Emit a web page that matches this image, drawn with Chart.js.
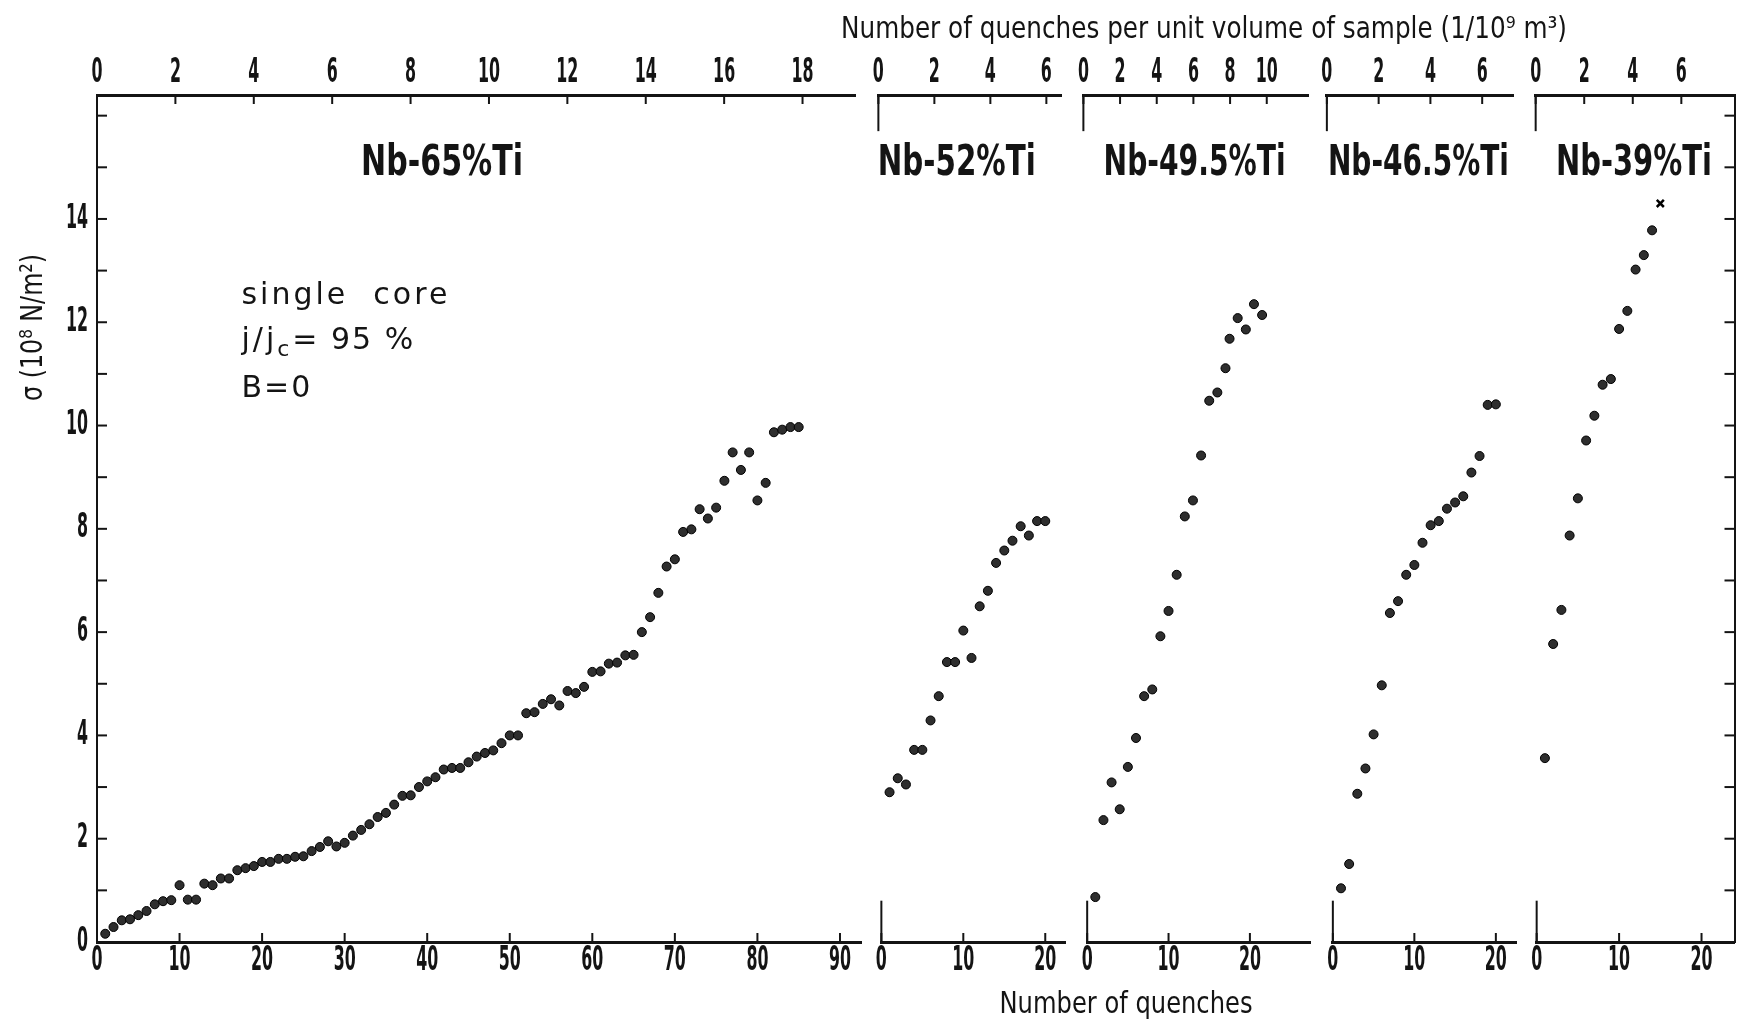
<!DOCTYPE html>
<html>
<head>
<meta charset="utf-8">
<title>Stress vs number of quenches</title>
<script src="https://cdn.jsdelivr.net/npm/chart.js@4.4.1/dist/chart.umd.min.js"></script>
<style>
  html, body { margin: 0; padding: 0; background: #fff; }
  #wrap { width: 1742px; height: 1023px; }
</style>
</head>
<body>
<div id="wrap"><canvas id="quenchChart" width="1742" height="1023"></canvas></div>
<script>
// ---- data (stress in 10^8 N/m^2) ----
const quench65 = [1, 2, 3, 4, 5, 6, 7, 8, 9, 10, 11, 12, 13, 14, 15, 16, 17, 18, 19, 20,
  21, 22, 23, 24, 25, 26, 27, 28, 29, 30, 31, 32, 33, 34, 35, 36, 37, 38, 39, 40,
  41, 42, 43, 44, 45, 46, 47, 48, 49, 50, 51, 52, 53, 54, 55, 56, 57, 58, 59, 60,
  61, 62, 63, 64, 65, 66, 67, 68, 69, 70, 71, 72, 73, 74, 75, 76, 77, 78, 79, 80,
  81, 82, 83, 84, 85];
const stress65 = [0.16, 0.29, 0.42, 0.44, 0.52, 0.60, 0.73, 0.79, 0.81, 1.10,
  0.82, 0.82, 1.13, 1.10, 1.23, 1.23, 1.39, 1.43, 1.47, 1.55,
  1.55, 1.61, 1.61, 1.65, 1.66, 1.76, 1.84, 1.95, 1.85, 1.92,
  2.06, 2.17, 2.28, 2.42, 2.50, 2.66, 2.83, 2.84, 3.00, 3.11,
  3.19, 3.34, 3.37, 3.37, 3.48, 3.59, 3.66, 3.71, 3.85, 4.00,
  4.00, 4.43, 4.45, 4.61, 4.70, 4.58, 4.86, 4.82, 4.94, 5.23,
  5.24, 5.39, 5.41, 5.55, 5.56, 6.00, 6.29, 6.76, 7.27, 7.41,
  7.94, 7.99, 8.38, 8.20, 8.41, 8.93, 9.48, 9.14, 9.48, 8.55,
  8.89, 9.87, 9.92, 9.97, 9.97];

const quench52 = [1, 2, 3, 4, 5, 6, 7, 8, 9, 10, 11, 12, 13, 14, 15, 16, 17, 18, 19, 20];
const stress52 = [2.90, 3.17, 3.05, 3.72, 3.72, 4.29, 4.76, 5.42, 5.42, 6.03,
  5.50, 6.50, 6.80, 7.34, 7.58, 7.77, 8.05, 7.87, 8.15, 8.15];

const quench495 = [1, 2, 3, 4, 5, 6, 7, 8, 9, 10, 11, 12, 13, 14, 15, 16, 17,
  17.5, 18.5, 19.5, 20.5, 21.5];
const stress495 = [0.87, 2.36, 3.09, 2.57, 3.39, 3.95, 4.76, 4.89, 5.92, 6.41,
  7.11, 8.24, 8.55, 9.42, 10.48, 10.64, 11.11, 11.68, 12.08, 11.86, 12.35, 12.14];

const quench465 = [1, 2, 3, 4, 5, 6, 7, 8, 9, 10, 11, 12, 13, 14, 15, 16, 17, 18, 19, 20];
const stress465 = [1.04, 1.51, 2.87, 3.36, 4.02, 4.97, 6.37, 6.60, 7.11, 7.30,
  7.73, 8.07, 8.15, 8.39, 8.51, 8.63, 9.09, 9.41, 10.40, 10.41];

const quench39 = [1, 2, 3, 4, 5, 6, 7, 8, 9, 10, 11, 12, 13, 14, 15];
const stress39 = [3.56, 5.77, 6.43, 7.87, 8.59, 9.71, 10.19, 10.79, 10.90, 11.87,
  12.22, 13.02, 13.30, 13.78, 14.30];
const crossAt39 = 14; // last Nb-39%Ti point is drawn as a cross

const alloys = ['Nb-65%Ti', 'Nb-52%Ti', 'Nb-49.5%Ti', 'Nb-46.5%Ti', 'Nb-39%Ti'];
const bottomTicks = [10, 10, 10, 10, 10];
const topLastLabel = [18, 6, 10, 6, 6];

// ---- look ----
const INK = '#141414';
const PLAIN = "'DejaVu Sans', sans-serif";
const SQUEEZE = 0.48; // the original lettering is a narrow stencil face

function toPoints(xs, ys) {
  return xs.map((x, i) => ({ x: x, y: ys[i] }));
}

function bottomAxis(weight, max, step) {
  return {
    type: 'linear', position: 'bottom', stack: 'panels', stackWeight: weight,
    min: 0, max: max,
    grid: { display: false },
    border: { display: true, color: INK, width: 3 },
    ticks: { display: false, stepSize: step, includeBounds: false },
    afterFit: s => { s.height = 81; }
  };
}

function topAxis(weight, max, lastLabel) {
  return {
    type: 'linear', position: 'top', stack: 'panels', stackWeight: weight,
    min: 0, max: max,
    grid: { display: false },
    border: { display: true, color: INK, width: 3 },
    ticks: {
      display: false, stepSize: 2, includeBounds: false,
      callback: v => (v <= lastLabel ? v : '')
    },
    afterFit: s => { s.height = 95; }
  };
}

function gapAxis(position, weight) {
  return { type: 'linear', position: position, stack: 'panels', stackWeight: weight, display: false, min: 0, max: 1 };
}

function squeezed(ctx, text, x, y) {
  ctx.fillText(text, x, y, ctx.measureText(text).width * SQUEEZE);
}

const bottomIds = ['x65', 'x52', 'x495', 'x465', 'x39'];
const topIds = ['t65', 't52', 't495', 't465', 't39'];

// inward tick marks, tick labels and the short brackets of the narrow panels
const frame = {
  id: 'frame',
  afterDraw(chart) {
    const { ctx, scales, chartArea } = chart;
    const y = scales.y;
    ctx.save();
    ctx.strokeStyle = INK;
    ctx.fillStyle = INK;
    ctx.lineWidth = 2;
    ctx.font = `bold 33px ${PLAIN}`;
    ctx.textBaseline = 'middle';
    const line = (x1, y1, x2, y2) => {
      ctx.beginPath(); ctx.moveTo(x1, y1); ctx.lineTo(x2, y2); ctx.stroke();
    };

    ctx.textAlign = 'right';
    y.ticks.forEach(t => {
      const p = y.getPixelForValue(t.value);
      line(chartArea.left, p, chartArea.left + 10, p);
      if (t.label !== '') squeezed(ctx, String(t.label), chartArea.left - 9, p);
    });
    scales.yRight.ticks.forEach(t => {
      const p = scales.yRight.getPixelForValue(t.value);
      line(chartArea.right, p, chartArea.right - 10, p);
    });

    ctx.textAlign = 'center';
    bottomIds.forEach(id => {
      const s = scales[id];
      s.ticks.forEach(t => {
        const p = s.getPixelForValue(t.value);
        line(p, chartArea.bottom, p, chartArea.bottom - 9);
        squeezed(ctx, String(t.label), p, chartArea.bottom + 19);
      });
      if (id !== 'x65') line(s.left, chartArea.bottom, s.left, y.getPixelForValue(0.8));
    });
    topIds.forEach(id => {
      const s = scales[id];
      s.ticks.forEach(t => {
        if (t.label === '') return;
        const p = s.getPixelForValue(t.value);
        line(p, chartArea.top, p, chartArea.top + 9);
        squeezed(ctx, String(t.label), p, chartArea.top - 22);
      });
      if (id !== 't65') line(s.left, chartArea.top, s.left, y.getPixelForValue(15.7));
    });
    ctx.restore();
  }
};

// panel names, axis titles and the test conditions
const titleAt = [41.8, 9.2, 13.2, 10.5, 11.8];
const titleWidth = [162, 158, 182, 181, 156];

const labels = {
  id: 'labels',
  afterDraw(chart) {
    const { ctx, scales } = chart;
    const y = scales.y;
    ctx.save();
    ctx.fillStyle = INK;
    ctx.textAlign = 'center';
    ctx.textBaseline = 'middle';

    ctx.font = `bold 43px ${PLAIN}`;
    alloys.forEach((name, i) => {
      const s = scales[bottomIds[i]];
      ctx.fillText(name, s.getPixelForValue(titleAt[i]), y.getPixelForValue(15.07), titleWidth[i]);
    });

    ctx.font = `30px ${PLAIN}`;
    ctx.fillText('Number of quenches per unit volume of sample (1/10\u2079 m\u00b3)', 1204, 30, 726);
    ctx.fillText('Number of quenches', 1126, 1005, 253);

    ctx.save();
    ctx.translate(34, y.getPixelForValue(11.9));
    ctx.rotate(-Math.PI / 2);
    ctx.font = `31px ${PLAIN}`;
    ctx.fillText('\u03c3 (10\u2078 N/m\u00b2)', 0, 0, 147);
    ctx.restore();

    const x0 = scales.x65.getPixelForValue(17.5);
    ctx.textAlign = 'left';
    ctx.textBaseline = 'alphabetic';
    ctx.font = `30px ${PLAIN}`;
    ctx.letterSpacing = '3px';
    ctx.fillText('single  core', x0, y.getPixelForValue(12.35));
    const b2 = y.getPixelForValue(11.49);
    let x = x0;
    ctx.fillText('j/j', x, b2);
    x += ctx.measureText('j/j').width;
    ctx.font = `22px ${PLAIN}`;
    ctx.fillText('c', x, b2 + 7);
    x += ctx.measureText('c').width;
    ctx.font = `30px ${PLAIN}`;
    ctx.letterSpacing = '2px';
    ctx.fillText('= 95 %', x, b2);
    ctx.fillText('B=0', x0, y.getPixelForValue(10.56));
    ctx.restore();
  }
};

const dotStyle = {
  showLine: false,
  pointRadius: 4.5,
  pointBackgroundColor: '#2e2e2e',
  pointBorderColor: '#000',
  pointBorderWidth: 1,
  yAxisID: 'y'
};

new Chart(document.getElementById('quenchChart'), {
  type: 'scatter',
  data: {
    datasets: [
      Object.assign({ label: alloys[0], data: toPoints(quench65, stress65), xAxisID: 'x65' }, dotStyle),
      Object.assign({ label: alloys[1], data: toPoints(quench52, stress52), xAxisID: 'x52' }, dotStyle),
      Object.assign({ label: alloys[2], data: toPoints(quench495, stress495), xAxisID: 'x495' }, dotStyle),
      Object.assign({ label: alloys[3], data: toPoints(quench465, stress465), xAxisID: 'x465' }, dotStyle),
      Object.assign({ label: alloys[4], data: toPoints(quench39, stress39), xAxisID: 'x39' }, dotStyle, {
        pointStyle: c => (c.dataIndex === crossAt39 ? 'crossRot' : 'circle'),
        pointBorderWidth: c => (c.dataIndex === crossAt39 ? 2.5 : 1),
        pointRadius: c => (c.dataIndex === crossAt39 ? 5 : 4.5)
      })
    ]
  },
  options: {
    responsive: false,
    devicePixelRatio: 1,
    animation: false,
    layout: { padding: 0 },
    plugins: { legend: { display: false }, tooltip: { enabled: false } },
    scales: {
      y: {
        type: 'linear', position: 'left', min: 0, max: 16.4,
        grid: { display: false },
        border: { display: true, color: INK, width: 2 },
        ticks: {
          display: false, stepSize: 1, includeBounds: false,
          callback: v => (v % 2 === 0 && v <= 14 ? v : '')
        },
        afterFit: s => { s.width = 97; }
      },
      yRight: {
        type: 'linear', position: 'right', min: 0, max: 16.4,
        grid: { display: false },
        border: { display: true, color: INK, width: 2 },
        ticks: { display: false, stepSize: 1, includeBounds: false },
        afterFit: s => { s.width = 2; }
      },
      // bottom: number of quenches, placed left to right
      x65: bottomAxis(767, 92.6, bottomTicks[0]),
      gb1: gapAxis('bottom', 20),
      x52: bottomAxis(185, 22.5, bottomTicks[1]),
      gb2: gapAxis('bottom', 21.5),
      x495: bottomAxis(224.5, 27.5, bottomTicks[2]),
      gb3: gapAxis('bottom', 22),
      x465: bottomAxis(184, 22.5, bottomTicks[3]),
      gb4: gapAxis('bottom', 20.5),
      x39: bottomAxis(198.5, 24, bottomTicks[4]),
      // top: quenches per unit volume (top boxes are laid out in reverse order)
      t39: topAxis(199.5, 8.19, topLastLabel[4]),
      gt4: gapAxis('top', 22.5),
      t465: topAxis(187, 7.2, topLastLabel[3]),
      gt3: gapAxis('top', 18),
      t495: topAxis(226.3, 12.3, topLastLabel[2]),
      gt2: gapAxis('top', 21.7),
      t52: topAxis(184, 6.55, topLastLabel[1]),
      gt1: gapAxis('top', 23),
      t65: topAxis(761, 19.35, topLastLabel[0])
    }
  },
  plugins: [frame, labels]
});
</script>
</body>
</html>
